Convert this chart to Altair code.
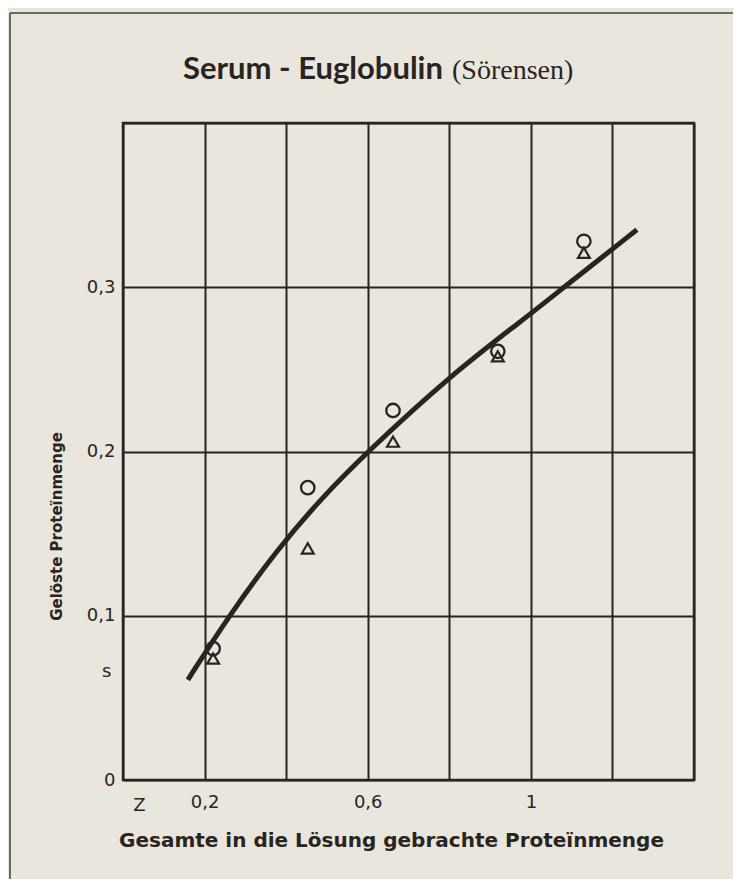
import altair as alt
import pandas as pd

# ---- data ----
x_points = [0.221, 0.453, 0.662, 0.919, 1.130]
circle_y = [0.080, 0.178, 0.225, 0.261, 0.328]
triangle_y = [0.074, 0.141, 0.206, 0.258, 0.321]

curve_x = [0.159, 0.257, 0.377, 0.488, 0.600, 0.806, 0.980, 1.071, 1.260]
curve_y = [0.061, 0.099, 0.140, 0.172, 0.200, 0.247, 0.280, 0.298, 0.335]

x_grid = [0, 0.2, 0.4, 0.6, 0.8, 1.0, 1.2, 1.4]
y_grid = [0, 0.1, 0.2, 0.3, 0.4]
x_label_text = {0.2: "0,2", 0.6: "0,6", 1.0: "1"}
y_label_text = {0: "0", 0.1: "0,1", 0.2: "0,2", 0.3: "0,3"}

extra_labels_x = [0.04, -0.04]
extra_labels_y = [-0.016, 0.066]
extra_labels = ["Z", "s"]

title_main = "Serum - Euglobulin"
title_sub = "(Sörensen)"
x_title = "Gesamte in die Lösung gebrachte Proteïnmenge"
y_title = "Gelöste Proteïnmenge"

INK = "#2a2421"
PAPER = "#e8e6dd"
W, H = 571, 657

pts = pd.DataFrame({"x": x_points, "circle": circle_y, "triangle": triangle_y})
curve = pd.DataFrame({"x": curve_x, "y": curve_y})
extra = pd.DataFrame({"x": extra_labels_x, "y": extra_labels_y, "t": extra_labels})

xlab_expr = " : ".join(
    [f"abs(datum.value - {k}) < 0.001 ? '{v}'" for k, v in x_label_text.items()]
) + " : ''"
ylab_expr = " : ".join(
    [f"abs(datum.value - {k}) < 0.001 ? '{v}'" for k, v in y_label_text.items()]
) + " : ''"

xscale = alt.Scale(domain=[0, 1.4], nice=False, zero=False)
yscale = alt.Scale(domain=[0, 0.4], nice=False, zero=False)

axis_font = "DejaVu Sans"

x_axis = alt.Axis(
    values=x_grid, grid=True, gridColor=INK, gridWidth=2, gridOpacity=1,
    ticks=False, tickSize=0, domain=False,
    labelExpr=xlab_expr, labelFont=axis_font, labelFontSize=18, labelColor=INK,
    labelPadding=13, labelBaseline="top",
    title=x_title, titleFont=axis_font, titleFontSize=20, titleFontWeight="bold",
    titleColor=INK, titleX=268, titleY=60, titleAlign="center", titleBaseline="middle",
)
y_axis = alt.Axis(
    values=y_grid, grid=True, gridColor=INK, gridWidth=2, gridOpacity=1,
    ticks=False, tickSize=0, domain=False,
    labelExpr=ylab_expr, labelFont=axis_font, labelFontSize=18, labelColor=INK,
    labelPadding=8, labelBaseline="middle",
    title=y_title, titleFont=axis_font, titleFontSize=15, titleFontWeight="bold",
    titleColor=INK, titleX=-67, titleY=403, titleAngle=-90,
    titleAlign="center", titleBaseline="middle",
)

base_x = alt.X("x:Q", scale=xscale, axis=x_axis)

line = alt.Chart(curve).mark_line(
    color=INK, strokeWidth=5, interpolate="basis", strokeCap="butt"
).encode(x=base_x, y=alt.Y("y:Q", scale=yscale, axis=y_axis))

circles = alt.Chart(pts).mark_point(
    shape="circle", filled=False, color=INK, strokeWidth=2.3, size=180, opacity=1
).encode(x=alt.X("x:Q", scale=xscale), y=alt.Y("circle:Q", scale=yscale))

triangles = alt.Chart(pts).mark_point(
    shape="triangle-up", filled=False, color=INK, strokeWidth=2.2, size=140, opacity=1
).encode(x=alt.X("x:Q", scale=xscale), y=alt.Y("triangle:Q", scale=yscale))

extra_text = alt.Chart(extra).mark_text(
    font=axis_font, fontSize=18, color=INK, align="center", baseline="middle"
).encode(x=alt.X("x:Q", scale=xscale), y=alt.Y("y:Q", scale=yscale), text="t:N")

title_df = pd.DataFrame({"t": [title_main]})
sub_df = pd.DataFrame({"t": [title_sub]})

title1 = alt.Chart(title_df).mark_text(
    font="Lato", fontWeight="bold", fontSize=31, color=INK, align="left",
    baseline="alphabetic"
).encode(x=alt.value(60), y=alt.value(-44), text="t:N")

title2 = alt.Chart(sub_df).mark_text(
    font="Liberation Serif", fontSize=28, color=INK, align="left",
    baseline="alphabetic"
).encode(x=alt.value(329), y=alt.value(-44), text="t:N")

frame_left = alt.Chart(title_df).mark_rule(color="#4a3c3c", strokeWidth=1.5).encode(
    x=alt.value(-113), y=alt.value(-110), y2=alt.value(770)
)
frame_top = alt.Chart(title_df).mark_rule(color="#4a3c3c", strokeWidth=1.5).encode(
    x=alt.value(-113), x2=alt.value(615), y=alt.value(-110)
)

chart = alt.layer(
    frame_left, frame_top, line, circles, triangles, extra_text, title1, title2
).properties(
    width=W, height=H,
    autosize=alt.AutoSizeParams(type="none"),
    padding={"left": 115, "top": 115, "right": 39, "bottom": 99},
    background=PAPER,
).configure_view(
    stroke=INK, strokeWidth=2.5, fill=PAPER
)

chart.save("out.html", embed_options={"renderer": "svg", "actions": False})
